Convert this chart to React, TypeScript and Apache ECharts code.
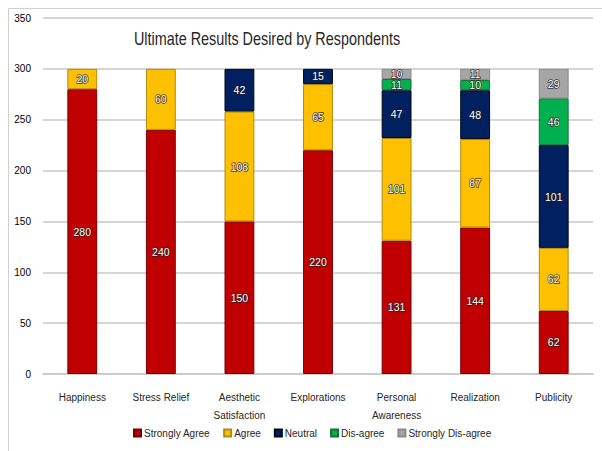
import React, { useEffect, useRef } from "react";
import * as echarts from "echarts";

const categories = [
  "Happiness",
  "Stress Relief",
  "Aesthetic\nSatisfaction",
  "Explorations",
  "Personal\nAwareness",
  "Realization",
  "Publicity",
];
const stronglyAgree = [280, 240, 150, 220, 131, 144, 62];
const agree = [20, 60, 108, 65, 101, 87, 62];
const neutral = [null, null, 42, 15, 47, 48, 101];
const disagree = [null, null, null, null, 11, 10, 46];
const stronglyDisagree = [null, null, null, null, 10, 11, 29];

const seriesNames = ["Strongly Agree", "Agree", "Neutral", "Dis-agree", "Strongly Dis-agree"];
const seriesColors = ["#C00000", "#FFC000", "#002060", "#00B050", "#A6A6A6"];
const seriesBorders = ["#7a0000", "#b08a10", "#000814", "#1f6b30", "#8a8a8a"];
const seriesData = [stronglyAgree, agree, neutral, disagree, stronglyDisagree];

const FONT = "'Liberation Sans', Arial, sans-serif";

export default function App() {
  const ref = useRef<HTMLDivElement>(null);
  useEffect(() => {
    document.body.style.margin = "0";
    if (!ref.current) return;
    const chart = echarts.init(ref.current, null, { renderer: "svg" });
    chart.setOption({
      animation: false,
      backgroundColor: "#ffffff",
      textStyle: { fontFamily: FONT },
      graphic: [
        {
          type: "rect",
          shape: { x: 8.5, y: 8.5, width: 600, height: 450 },
          style: { fill: "none", stroke: "#d0d0d0", lineWidth: 1 },
          silent: true,
        },
        {
          type: "text",
          x: 267,
          y: 38,
          scaleX: 0.8,
          style: {
            text: "Ultimate Results Desired by Respondents",
            fontFamily: FONT,
            fontSize: 18,
            fill: "#262626",
            align: "center",
            verticalAlign: "middle",
          },
          silent: true,
        },
      ],
      legend: {
        top: 423,
        left: 128,
        itemWidth: 7,
        itemHeight: 7,
        itemGap: 13,
        icon: "rect",
        textStyle: { fontFamily: FONT, fontSize: 10, color: "#262626", padding: [0, 0, 0, -2] },
        data: seriesNames,
      },
      grid: { left: 43, right: 9, top: 18, bottom: 77, containLabel: false },
      xAxis: {
        type: "category",
        data: categories,
        axisLine: { show: true, lineStyle: { color: "#c8c8c8", width: 1.5 } },
        axisTick: { show: false },
        axisLabel: {
          fontFamily: FONT,
          fontSize: 10,
          color: "#262626",
          margin: 14,
          lineHeight: 18,
          interval: 0,
        },
      },
      yAxis: {
        type: "value",
        min: 0,
        max: 350,
        interval: 50,
        axisLine: { show: false },
        axisTick: { show: false },
        splitLine: { lineStyle: { color: "#c8c8c8", width: 1.5 } },
        axisLabel: { fontFamily: FONT, fontSize: 10, color: "#000000", margin: 12 },
      },
      series: seriesNames.map((name, i) => ({
        name,
        type: "bar",
        stack: "total",
        barWidth: "38%",
        data: seriesData[i],
        itemStyle: { color: seriesColors[i], borderColor: seriesBorders[i], borderWidth: 1 },
        label: {
          show: true,
          position: "inside",
          fontFamily: FONT,
          fontSize: 10.5,
          color: "#ffffff",
          textBorderColor: "rgba(30,30,30,0.85)",
          textBorderWidth: 1.5,
        },
      })),
    });
    return () => chart.dispose();
  }, []);
  return <div ref={ref} style={{ width: 602, height: 451 }} />;
}
